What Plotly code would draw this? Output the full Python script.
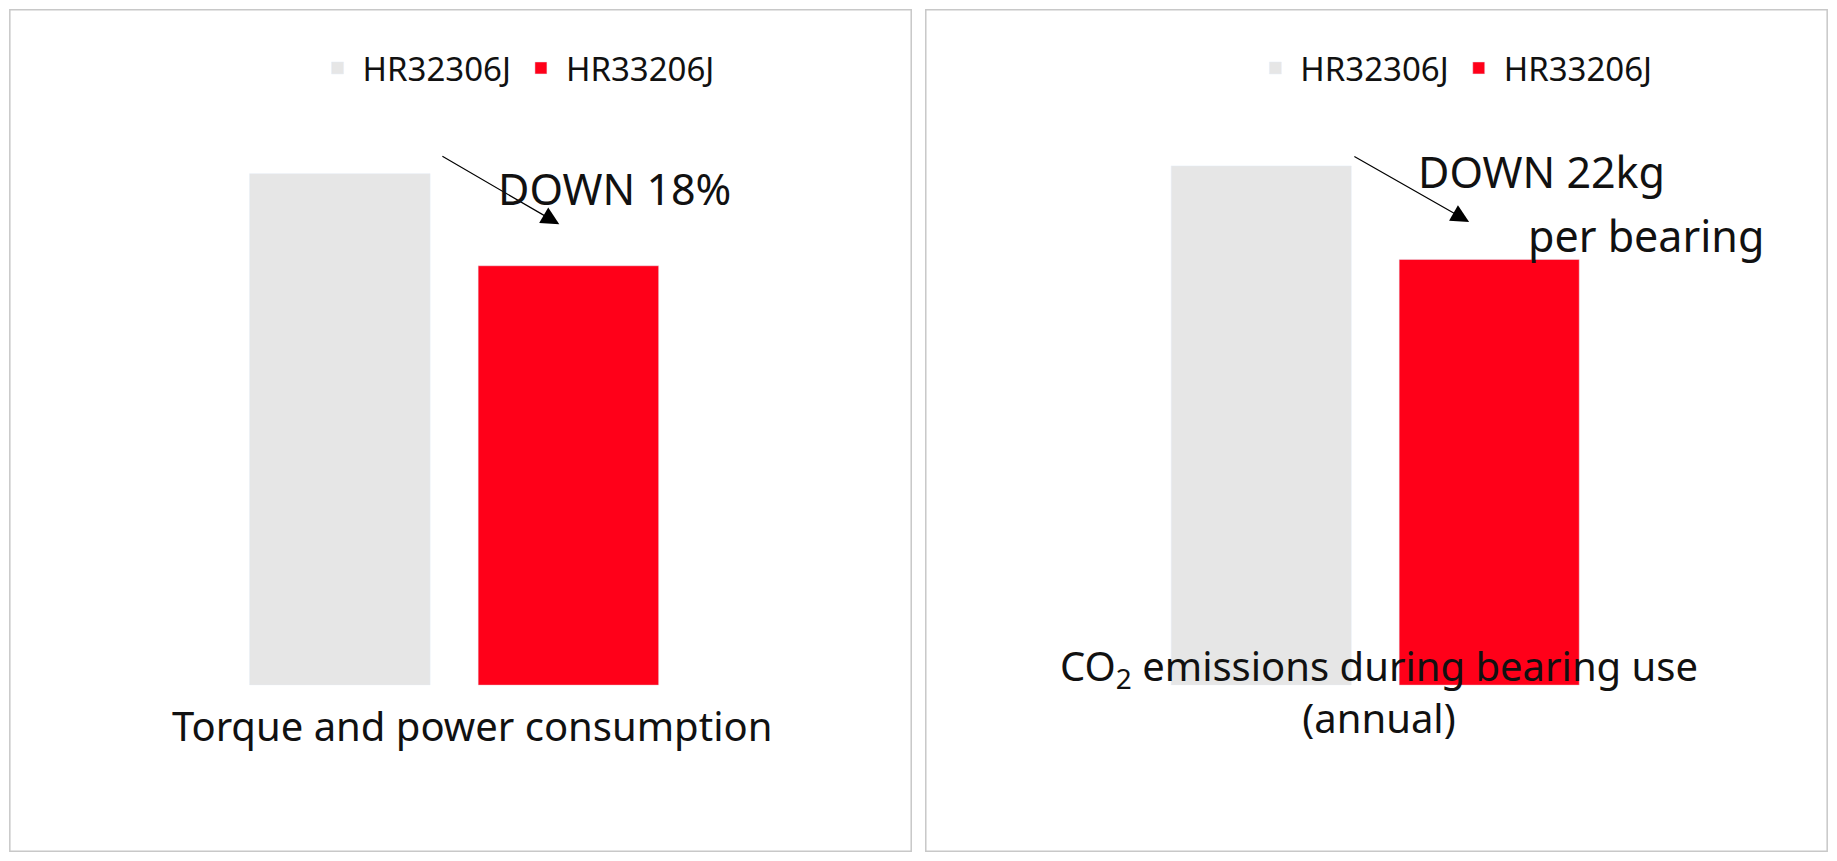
import plotly.graph_objects as go
from plotly.subplots import make_subplots

bearings = ["HR32306J", "HR33206J"]
colours = ["#E6E6E6", "#FF0019"]
torque = [100, 82]
co2 = [100, 82]
captions = ["Torque and power consumption",
            "CO<sub>2</sub> emissions during bearing use<br>(annual)"]

FONT = "Noto Sans"

fig = make_subplots(rows=1, cols=2)
for col, (values, legend) in enumerate([(torque, "legend"), (co2, "legend2")], start=1):
    for name, val, c in zip(bearings, values, colours):
        fig.add_trace(
            go.Bar(x=[name], y=[val], name=name, marker_color=c,
                   legend=legend, hoverinfo="skip"),
            row=1, col=col,
        )

fig.update_layout(
    barmode="overlay",
    bargap=0.21,
    plot_bgcolor="white",
    paper_bgcolor="white",
    margin=dict(l=0, r=0, t=0, b=0),
    font=dict(family=FONT, color="#111"),
    xaxis=dict(domain=[0.1195, 0.3705], showticklabels=False, showline=False,
               showgrid=False, ticks=""),
    xaxis2=dict(domain=[0.6256, 0.8760], showticklabels=False, showline=False,
                showgrid=False, ticks=""),
    yaxis=dict(domain=[0.1986, 0.925], range=[0, 120], visible=False),
    yaxis2=dict(domain=[0.1986, 0.936], range=[0, 120], visible=False),
    legend=dict(orientation="h", x=0.279, y=0.929, xanchor="center",
                yanchor="middle", font=dict(size=33), itemwidth=40),
    legend2=dict(orientation="h", x=0.794, y=0.929, xanchor="center",
                 yanchor="middle", font=dict(size=33), itemwidth=40),
    shapes=[
        dict(type="rect", xref="paper", yref="paper", x0=0.001, x1=0.496,
             y0=0.002, y1=0.998, line=dict(color="#C8C8C8", width=1.5)),
        dict(type="rect", xref="paper", yref="paper", x0=0.504, x1=0.999,
             y0=0.002, y1=0.998, line=dict(color="#C8C8C8", width=1.5)),
    ],
)

annots = [
    # arrows
    dict(xref="x domain", yref="y domain", axref="x domain", ayref="y domain",
         x=0.73, y=0.751, ax=0.471, ay=0.863, text="", showarrow=True,
         arrowhead=2, arrowsize=3, arrowwidth=1.2, arrowcolor="black"),
    dict(xref="x2 domain", yref="y2 domain", axref="x2 domain", ayref="y2 domain",
         x=0.706, y=0.7435, ax=0.451, ay=0.850, text="", showarrow=True,
         arrowhead=2, arrowsize=3, arrowwidth=1.2, arrowcolor="black"),
    # labels
    dict(xref="x domain", yref="y domain", x=0.85, y=0.86, text="DOWN 18%",
         xanchor="center", showarrow=False, font=dict(size=43)),
    dict(xref="x2 domain", yref="y2 domain", x=0.864, y=0.875, text="DOWN 22kg",
         xanchor="center", showarrow=False, font=dict(size=43)),
    dict(xref="x2 domain", yref="y2 domain", x=1.093, y=0.773, text="per bearing",
         xanchor="center", showarrow=False, font=dict(size=43)),
    # captions
    dict(xref="paper", yref="paper", x=0.255, y=0.116, text=captions[0],
         xanchor="center", showarrow=False, font=dict(size=40)),
    dict(xref="paper", yref="paper", x=0.753, y=0.125, text=captions[1],
         xanchor="center", showarrow=False, font=dict(size=40)),
]
fig.update_layout(annotations=annots)

fig.write_html("out.html")
